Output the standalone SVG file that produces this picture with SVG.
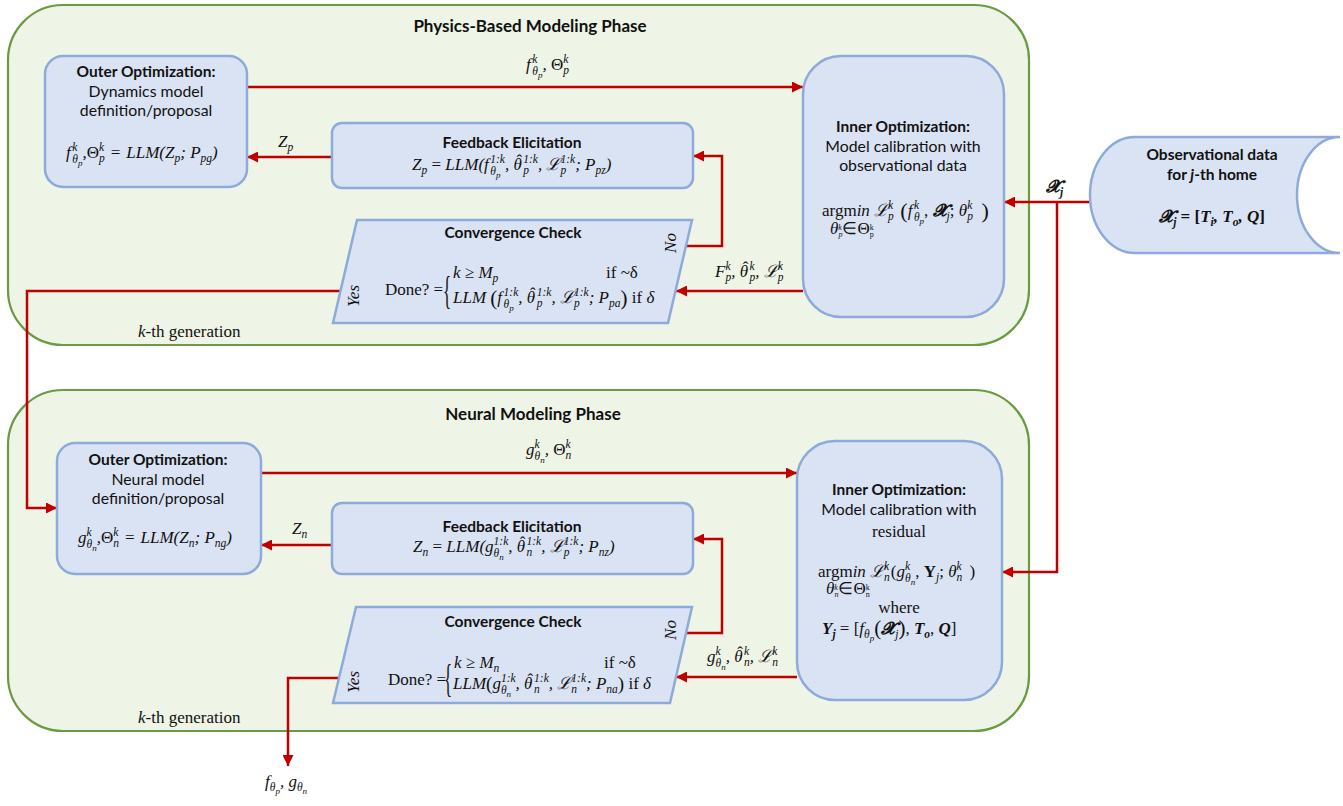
<svg xmlns="http://www.w3.org/2000/svg" width="1343" height="806" viewBox="0 0 1343 806">
<style>
.phase{fill:#EEF4E6;stroke:#6A9B42;stroke-width:2.2}
.nd{fill:#DAE3F3;stroke:#8EAADB;stroke-width:2.5}
.cn{fill:none;stroke:#C00000;stroke-width:2.5}
.ph{font-family:Lato,"Open Sans",sans-serif;font-weight:700;font-size:17px;text-anchor:middle;fill:#111}
.ti{font-family:Lato,"Open Sans",sans-serif;font-weight:700;font-size:15.5px;text-anchor:middle;fill:#111}
.tx{font-family:Lato,"Open Sans",sans-serif;font-size:15.8px;text-anchor:middle;fill:#111}
.sf{font-family:"Liberation Serif",serif;font-size:17px;fill:#111}
.m{font-family:"Liberation Serif",serif;font-style:italic;font-size:17px;fill:#111}
.sp{font-size:11.5px}
.ss{font-size:9px}
.up{font-style:normal}
.bd{font-weight:700}
</style>
<defs>
<marker id="ah" viewBox="0 0 10 10" refX="10" refY="5" markerWidth="13" markerHeight="11" markerUnits="userSpaceOnUse" orient="auto">
<path d="M0,0 L10,5 L0,10 z" fill="#C00000"/>
</marker>
</defs>

<g id="phase-physics">
<rect class="phase" x="8" y="5" width="1021" height="340" rx="55"/>
<text class="ph" x="530" y="32">Physics-Based Modeling Phase</text>
<text class="sf" x="138" y="337" font-size="16.5"><tspan class="m" font-size="16.5">k</tspan>-th generation</text>
</g>
<g id="phase-neural">
<rect class="phase" x="8" y="390" width="1021" height="341" rx="55"/>
<text class="ph" x="533" y="420">Neural Modeling Phase</text>
<text class="sf" x="138" y="723" font-size="16.5"><tspan class="m" font-size="16.5">k</tspan>-th generation</text>
</g>

<g id="connectors">
<path class="cn" d="M247,87 H803" marker-end="url(#ah)"/>
<path class="cn" d="M332,157 H247" marker-end="url(#ah)"/>
<path class="cn" d="M686,246 H722 V156 H693" marker-end="url(#ah)"/>
<path class="cn" d="M803,291 H676" marker-end="url(#ah)"/>
<path class="cn" d="M340,291 H27 V508 H57" marker-end="url(#ah)"/>
<path class="cn" d="M1090,202 H1004" marker-end="url(#ah)"/>
<path class="cn" d="M1057,202 V572 H1002" marker-end="url(#ah)"/>
<path class="cn" d="M261,473 H797" marker-end="url(#ah)"/>
<path class="cn" d="M332,545 H261" marker-end="url(#ah)"/>
<path class="cn" d="M686,633 H722 V539 H693" marker-end="url(#ah)"/>
<path class="cn" d="M797,677 H676" marker-end="url(#ah)"/>
<path class="cn" d="M339,678 H288 V766" marker-end="url(#ah)"/>
<text class="m" x="526" y="70" font-size="17.5">f<tspan class="sp" dx="1.5" dy="-7">k</tspan><tspan class="sp" dx="-5.1" dy="12">θ</tspan><tspan class="ss" dy="2.5">p</tspan><tspan dy="-7.5">, </tspan><tspan class="up">Θ</tspan><tspan class="sp" dy="-7">k</tspan><tspan class="sp" dx="-5.1" dy="11">p</tspan></text>
<text class="m" x="278" y="147" font-size="17.5">Z<tspan class="sp" dy="4">p</tspan></text>
<text class="m" x="715" y="277" font-size="17.5">F<tspan class="sp" dy="-7">k</tspan><tspan class="sp" dx="-5.1" dy="11">p</tspan><tspan dy="-4">, θ</tspan><tspan class="up" dx="-5.3" dy="-4">ˆ</tspan><tspan class="sp" dx="1" dy="-3">k</tspan><tspan class="sp" dx="-5.1" dy="11">p</tspan><tspan dy="-4">, ℒ</tspan><tspan class="sp" dy="-7">k</tspan><tspan class="sp" dx="-5.1" dy="11">p</tspan></text>
<text class="m bd" x="1046" y="192" font-size="17.5">𝓧<tspan class="sp" dy="4">j</tspan></text>
<text class="m" x="526" y="455" font-size="17.5">g<tspan class="sp" dy="-7">k</tspan><tspan class="sp" dx="-5.1" dy="12">θ</tspan><tspan class="ss" dy="2.5">n</tspan><tspan dy="-7.5">, </tspan><tspan class="up">Θ</tspan><tspan class="sp" dy="-7">k</tspan><tspan class="sp" dx="-5.1" dy="11">n</tspan></text>
<text class="m" x="292" y="534" font-size="17.5">Z<tspan class="sp" dy="4">n</tspan></text>
<text class="m" x="707" y="662" font-size="17.5">g<tspan class="sp" dy="-7">k</tspan><tspan class="sp" dx="-5.1" dy="12">θ</tspan><tspan class="ss" dy="2.5">n</tspan><tspan dy="-7.5">, θ</tspan><tspan class="up" dx="-5.3" dy="-4">ˆ</tspan><tspan class="sp" dx="1" dy="-3">k</tspan><tspan class="sp" dx="-5.1" dy="11">n</tspan><tspan dy="-4">, ℒ</tspan><tspan class="sp" dy="-7">k</tspan><tspan class="sp" dx="-5.1" dy="11">n</tspan></text>
<text class="m" x="265" y="787" font-size="17.5">f<tspan class="sp" dy="4">θ</tspan><tspan class="ss" dy="2.5">p</tspan><tspan dy="-6.5">, g</tspan><tspan class="sp" dy="4">θ</tspan><tspan class="ss" dy="2.5">n</tspan></text>
</g>

<g id="outer-physics">
<rect class="nd" x="45" y="56" width="202" height="131" rx="18"/>
<text class="ti" x="146" y="77">Outer Optimization:</text>
<text class="tx" x="146" y="97">Dynamics model</text>
<text class="tx" x="146" y="116">definition/proposal</text>
<text class="m" x="66" y="158" font-size="16.5">f<tspan class="sp" dx="1.5" dy="-7">k</tspan><tspan class="sp" dx="-5.1" dy="12">θ</tspan><tspan class="ss" dy="2.5">p</tspan><tspan dy="-7.5">,</tspan><tspan class="up">Θ</tspan><tspan class="sp" dy="-7">k</tspan><tspan class="sp" dx="-5.1" dy="11">p</tspan><tspan dx="6" dy="-4" class="up">=</tspan><tspan dx="6">LLM(Z</tspan><tspan class="sp" dy="4">p</tspan><tspan dy="-4">; P</tspan><tspan class="sp" dy="4">pg</tspan><tspan dy="-4">)</tspan></text>
</g>

<g id="feedback-physics">
<rect class="nd" x="332" y="123" width="361" height="65" rx="10"/>
<text class="ti" x="512" y="148">Feedback Elicitation</text>
<text class="m" x="412" y="170">Z<tspan class="sp" dy="4">p</tspan><tspan dy="-4" class="up"> = </tspan>LLM(f<tspan class="sp" dx="1.5" dy="-7">1:k</tspan><tspan class="sp" dx="-14.7" dy="12">θ</tspan><tspan class="ss" dy="2.5">p</tspan><tspan dx="4.5" dy="-7.5">, θ</tspan><tspan class="up" dx="-5.3" dy="-4">ˆ</tspan><tspan class="sp" dx="1" dy="-3">1:k</tspan><tspan class="sp" dx="-14.7" dy="11">p</tspan><tspan dx="9" dy="-4">, ℒ</tspan><tspan class="sp" dy="-7">1:k</tspan><tspan class="sp" dx="-14.7" dy="11">p</tspan><tspan dx="9" dy="-4">; P</tspan><tspan class="sp" dy="4">pz</tspan><tspan dy="-4">)</tspan></text>
</g>

<g id="convergence-physics">
<polygon class="nd" points="357,220 692,220 668,323 333,323"/>
<text class="ti" x="513" y="238">Convergence Check</text>
<text class="sf" x="385" y="295" font-size="16.3">Done? =</text>
<text class="sf" transform="translate(443,304) scale(1,2.4)" font-size="24">{</text>
<text class="m" x="453" y="278" font-size="16">k ≥ M<tspan class="sp" dy="4">p</tspan></text>
<text class="sf" x="606" y="278" font-size="16">if ~δ</text>
<text class="m" x="453" y="303" font-size="16">LLM <tspan font-size="21" class="up" dy="2">(</tspan><tspan dy="-2">f</tspan><tspan class="sp" dx="1.5" dy="-7">1:k</tspan><tspan class="sp" dx="-14.7" dy="12">θ</tspan><tspan class="ss" dy="2.5">p</tspan><tspan dx="4.5" dy="-7.5">, θ</tspan><tspan class="up" dx="-5" dy="-4">ˆ</tspan><tspan class="sp" dx="1" dy="-3">1:k</tspan><tspan class="sp" dx="-14.7" dy="11">p</tspan><tspan dx="9" dy="-4">, ℒ</tspan><tspan class="sp" dy="-7">1:k</tspan><tspan class="sp" dx="-14.7" dy="11">p</tspan><tspan dx="9" dy="-4">; P</tspan><tspan class="sp" dy="4">pa</tspan><tspan dy="-2" font-size="21" class="up">)</tspan><tspan dy="-2" class="up"> if </tspan>δ</text>
<text class="m" transform="translate(359,296) rotate(-90)" text-anchor="middle" font-size="16">Yes</text>
<text class="m" transform="translate(676,243) rotate(-90)" text-anchor="middle" font-size="16">No</text>
</g>

<g id="inner-physics">
<rect class="nd" x="803" y="56" width="201" height="261" rx="38"/>
<text class="ti" x="903" y="132">Inner Optimization:</text>
<text class="tx" x="903" y="152">Model calibration with</text>
<text class="tx" x="903" y="171">observational data</text>
<text class="sf" x="822" y="216" font-size="17.5">argm<tspan class="m">in</tspan> <tspan class="m">ℒ</tspan><tspan class="m sp" dy="-7">k</tspan><tspan class="m sp" dx="-5.1" dy="11">p</tspan><tspan dx="1" dy="-2" font-size="22"> (</tspan><tspan class="m" dy="-2">f</tspan><tspan class="m sp" dx="1.5" dy="-7">k</tspan><tspan class="m sp" dx="-5.1" dy="12">θ</tspan><tspan class="m ss" dy="2.5">p</tspan><tspan dy="-7.5">, </tspan><tspan class="m bd">𝓧</tspan><tspan class="m sp" dy="4">j</tspan><tspan dy="-4">; </tspan><tspan class="m">θ</tspan><tspan class="m sp" dy="-7">k</tspan><tspan class="m sp" dx="-5.1" dy="11">p</tspan><tspan dx="3" dy="-2" font-size="22"> )</tspan></text>
<text class="m" x="830" y="234" font-size="11">θ<tspan font-size="8" dy="-4">k</tspan><tspan font-size="8" dx="-3.5" dy="7">p</tspan><tspan class="up" dy="-3">∈Θ</tspan><tspan class="up" font-size="8" dy="-4">k</tspan><tspan class="up" font-size="8" dx="-4" dy="7">p</tspan></text>
</g>

<g id="observational-data">
<path class="nd" d="M1135,137 H1340 A43,58 0 0 0 1340,253 H1135 A45,58 0 0 1 1135,137 Z"/>
<text class="ti" x="1212" y="160">Observational data</text>
<text class="ti" x="1212" y="180">for <tspan font-style="italic">j</tspan>-th home</text>
<text class="m bd" x="1212" y="222" text-anchor="middle" font-size="18">𝓧<tspan class="sp" dy="4">j</tspan><tspan dy="-4" class="up"> = [</tspan>T<tspan class="sp" dy="4">i</tspan><tspan dy="-4">, T</tspan><tspan class="sp" dy="4">o</tspan><tspan dy="-4">, Q</tspan><tspan class="up">]</tspan></text>
</g>

<g id="outer-neural">
<rect class="nd" x="57" y="443" width="204" height="131" rx="18"/>
<text class="ti" x="158" y="465">Outer Optimization:</text>
<text class="tx" x="158" y="485">Neural model</text>
<text class="tx" x="158" y="504">definition/proposal</text>
<text class="m" x="78" y="543" font-size="16.5">g<tspan class="sp" dy="-7">k</tspan><tspan class="sp" dx="-5.1" dy="12">θ</tspan><tspan class="ss" dy="2.5">n</tspan><tspan dy="-7.5">,</tspan><tspan class="up">Θ</tspan><tspan class="sp" dy="-7">k</tspan><tspan class="sp" dx="-5.1" dy="11">n</tspan><tspan dx="6" dy="-4" class="up">=</tspan><tspan dx="6">LLM(Z</tspan><tspan class="sp" dy="4">n</tspan><tspan dy="-4">; P</tspan><tspan class="sp" dy="4">ng</tspan><tspan dy="-4">)</tspan></text>
</g>

<g id="feedback-neural">
<rect class="nd" x="332" y="503" width="361" height="71" rx="10"/>
<text class="ti" x="512" y="532">Feedback Elicitation</text>
<text class="m" x="413" y="552">Z<tspan class="sp" dy="4">n</tspan><tspan dy="-4" class="up"> = </tspan>LLM(g<tspan class="sp" dy="-7">1:k</tspan><tspan class="sp" dx="-14.7" dy="12">θ</tspan><tspan class="ss" dy="2.5">n</tspan><tspan dx="4.5" dy="-7.5">, θ</tspan><tspan class="up" dx="-5.3" dy="-4">ˆ</tspan><tspan class="sp" dx="1" dy="-3">1:k</tspan><tspan class="sp" dx="-14.7" dy="11">n</tspan><tspan dx="9" dy="-4">, ℒ</tspan><tspan class="sp" dy="-7">1:k</tspan><tspan class="sp" dx="-14.7" dy="11">p</tspan><tspan dx="9" dy="-4">; P</tspan><tspan class="sp" dy="4">nz</tspan><tspan dy="-4">)</tspan></text>
</g>

<g id="convergence-neural">
<polygon class="nd" points="356,607 692,607 670,703 333,703"/>
<text class="ti" x="513" y="627">Convergence Check</text>
<text class="sf" x="388" y="685" font-size="16.3">Done? =</text>
<text class="sf" transform="translate(444,692) scale(1,2.4)" font-size="24">{</text>
<text class="m" x="454" y="668" font-size="16">k ≥ M<tspan class="sp" dy="4">n</tspan></text>
<text class="sf" x="604" y="668" font-size="16">if ~δ</text>
<text class="m" x="453" y="689" font-size="16">LLM<tspan font-size="19" class="up" dy="1">(</tspan><tspan dy="-1">g</tspan><tspan class="sp" dy="-7">1:k</tspan><tspan class="sp" dx="-14.7" dy="12">θ</tspan><tspan class="ss" dy="2.5">n</tspan><tspan dx="4.5" dy="-7.5">, θ</tspan><tspan class="up" dx="-5" dy="-4">ˆ</tspan><tspan class="sp" dx="1" dy="-3">1:k</tspan><tspan class="sp" dx="-14.7" dy="11">n</tspan><tspan dx="9" dy="-4">, ℒ</tspan><tspan class="sp" dy="-7">1:k</tspan><tspan class="sp" dx="-14.7" dy="11">n</tspan><tspan dx="9" dy="-4">; P</tspan><tspan class="sp" dy="4">na</tspan><tspan dy="-3" font-size="19" class="up">)</tspan><tspan dy="-1" class="up"> if </tspan>δ</text>
<text class="m" transform="translate(359,682) rotate(-90)" text-anchor="middle" font-size="16">Yes</text>
<text class="m" transform="translate(676,630) rotate(-90)" text-anchor="middle" font-size="16">No</text>
</g>

<g id="inner-neural">
<rect class="nd" x="797" y="441" width="205" height="259" rx="38"/>
<text class="ti" x="899" y="495">Inner Optimization:</text>
<text class="tx" x="899" y="515">Model calibration with</text>
<text class="sf" x="899" y="537" text-anchor="middle">residual</text>
<text class="sf" x="818" y="577" font-size="17.5">argm<tspan class="m">in</tspan> <tspan class="m">ℒ</tspan><tspan class="m sp" dy="-7">k</tspan><tspan class="m sp" dx="-5.1" dy="11">n</tspan><tspan dx="1" dy="-4">(</tspan><tspan class="m">g</tspan><tspan class="m sp" dy="-7">k</tspan><tspan class="m sp" dx="-5.1" dy="12">θ</tspan><tspan class="m ss" dy="2.5">n</tspan><tspan dy="-7.5">, </tspan><tspan class="bd">Y</tspan><tspan class="m sp" dy="4">j</tspan><tspan dy="-4">; </tspan><tspan class="m">θ</tspan><tspan class="m sp" dy="-7">k</tspan><tspan class="m sp" dx="-5.1" dy="11">n</tspan><tspan dx="3" dy="-4"> )</tspan></text>
<text class="m" x="826" y="594" font-size="11">θ<tspan font-size="8" dy="-4">k</tspan><tspan font-size="8" dx="-3.5" dy="7">n</tspan><tspan class="up" dy="-3">∈Θ</tspan><tspan class="up" font-size="8" dy="-4">k</tspan><tspan class="up" font-size="8" dx="-4" dy="7">n</tspan></text>
<text class="sf" x="899" y="613" text-anchor="middle">where</text>
<text class="m" x="822" y="634" font-size="19"><tspan class="bd">Y</tspan><tspan class="sp bd" dy="4">j</tspan><tspan dy="-4" class="up"> = [</tspan>f<tspan class="sp" dy="4">θ</tspan><tspan class="ss" dy="2.5">p</tspan><tspan class="up" font-size="21" dy="-5.5">(</tspan><tspan class="bd" dy="-1">𝓧</tspan><tspan class="sp" dy="4">j</tspan><tspan class="up" font-size="21" dy="-3">)</tspan><tspan class="up" dy="-1">, </tspan><tspan class="bd">T</tspan><tspan class="sp bd" dy="4">o</tspan><tspan dy="-4" class="up">, </tspan><tspan class="bd">Q</tspan><tspan class="up">]</tspan></text>
</g>
</svg>
